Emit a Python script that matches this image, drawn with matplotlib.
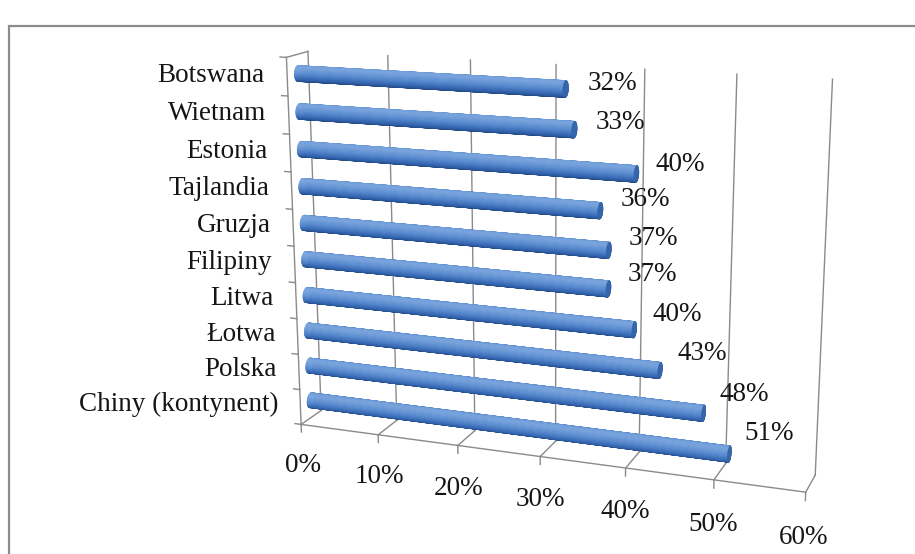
import numpy as np
import matplotlib
matplotlib.use("Agg")
import matplotlib.pyplot as plt
from matplotlib.patches import Rectangle
from matplotlib.colors import to_rgb
from mpl_toolkits.mplot3d.art3d import Poly3DCollection
from mpl_toolkits.mplot3d import proj3d

# ---------------- data ----------------
categories = ["Botswana", "Wietnam", "Estonia", "Tajlandia", "Gruzja",
              "Filipiny", "Litwa", "Łotwa", "Polska", "Chiny (kontynent)"]
values = [0.32, 0.33, 0.40, 0.36, 0.37, 0.37, 0.40, 0.43, 0.48, 0.51]
value_labels = ["32%", "33%", "40%", "36%", "37%", "37%", "40%", "43%", "48%", "51%"]
x_ticks = [0.0, 0.1, 0.2, 0.3, 0.4, 0.5, 0.6]
x_tick_labels = ["0%", "10%", "20%", "30%", "40%", "50%", "60%"]

# ---------------- style / layout ----------------
W, H, DPI = 915, 554, 100
FONT = "Liberation Serif"
FS = 19.5
GRID = "#8a8a8a"
TXT = "#151515"

fig = plt.figure(figsize=(W / DPI, H / DPI), dpi=DPI)
fig.patch.set_facecolor("white")
fig.add_artist(Rectangle((9 / W, -0.1), 1.2, (H - 26) / H + 0.1,
                         transform=fig.transFigure, fill=False,
                         edgecolor="#8c8c8c", lw=1.6))

S = 900.0                 # side of the square 3D axes in pixels
CX, CY = 548.0, 290.0     # pixel position (from bottom-left) of the box centre
frac = 0.095 / 0.185
ax = fig.add_axes([(CX - frac * S) / W, (CY - frac * S) / H, S / W, S / H],
                  projection="3d")
ax.set_proj_type("persp", focal_length=0.349)
ax.view_init(elev=15, azim=-70)
n = len(categories)
ax.set_xlim(0, 0.6)
ax.set_ylim(0, 1)
ax.set_zlim(0, n)
BOX = (1.122, 0.095, 0.81)
ax.set_box_aspect(BOX, zoom=np.linalg.norm(BOX) / (1.8294640721620434 * 25 / 24))
ax.set_xticks([])
ax.set_yticks([])
ax.set_zticks([])
ax.set_axis_off()
ax.patch.set_visible(False)
ax.computed_zorder = False

M = ax.get_proj()


def label(x, y, z, s, **kw):
    """Place upright text at the projected position of a 3D data point."""
    px, py, _ = proj3d.proj_transform(x, y, z, M)
    ax.text2D(px, py, s, transform=ax.transData, fontsize=FS, family=FONT,
              color=TXT, zorder=3, clip_on=False, **kw)


# ---------------- walls, grid, axes ----------------
def line(xs, ys, zs):
    ax.plot(xs, ys, zs, color=GRID, lw=1.0, zorder=1, clip_on=False)


for v in x_ticks:
    line([v, v], [1, 1], [0, n])          # back wall gridline
    line([v, v], [0, 1], [0, 0])          # floor gridline
    line([v, v], [0, 0], [0, -0.22])      # tick on the front edge
line([0, 0.6], [0, 0], [0, 0])            # front edge of floor
line([0, 0], [0, 0], [0, n])              # category axis
line([0, 0], [0, 1], [n, n])              # top of side wall
for k in range(n + 1):
    line([-0.008, 0], [0, 0], [k, k])     # category ticks

# ---------------- cylinders ----------------
R_WORLD = 0.0168
ry = R_WORLD / BOX[1]                      # radius in depth data units
rz = R_WORLD / BOX[2] * n                  # radius in category data units
stops_s = [-1.0, -0.3, 0.25, 0.7, 1.0]
stops_c = np.array([to_rgb(c) for c in
                    ["#15366a", "#2a579b", "#3f72bd", "#5b8dd2", "#7aa5de"]])
light = np.array([0.0, -0.55, 0.85])
light /= np.linalg.norm(light)
nt = 48
ts = np.linspace(0, 2 * np.pi, nt + 1)
LABEL_Y = 0.5 + 0.158 / BOX[1]

for i, (v, lab) in enumerate(zip(values, value_labels)):
    zc = n - 1 - i + 0.5
    yc = 0.5
    verts, cols = [], []
    for t0, t1 in zip(ts[:-1], ts[1:]):
        tm = 0.5 * (t0 + t1)
        s = np.dot([0.0, np.cos(tm), np.sin(tm)], light)
        col = [np.interp(s, stops_s, stops_c[:, j]) for j in range(3)]
        verts.append([(0, yc + ry * np.cos(t0), zc + rz * np.sin(t0)),
                      (v, yc + ry * np.cos(t0), zc + rz * np.sin(t0)),
                      (v, yc + ry * np.cos(t1), zc + rz * np.sin(t1)),
                      (0, yc + ry * np.cos(t1), zc + rz * np.sin(t1))])
        cols.append(col)
    verts.append([(v, yc + ry * np.cos(t), zc + rz * np.sin(t)) for t in ts])
    cols.append(to_rgb("#3566ab"))
    pc = Poly3DCollection(verts, facecolors=cols, edgecolors=cols,
                          linewidths=0.4, zorder=2)
    ax.add_collection3d(pc)
    label(v - 0.004, LABEL_Y, zc - 0.15, lab, ha="left", va="center")

# ---------------- labels ----------------
for i, c in enumerate(categories):
    zc = n - 1 - i + 0.5
    label(-0.029, 0, zc, c, ha="right", va="center")
for v, t in zip(x_ticks, x_tick_labels):
    label(v, 0, -1.2, t, ha="center", va="center")

fig.savefig("out.png", dpi=DPI)
